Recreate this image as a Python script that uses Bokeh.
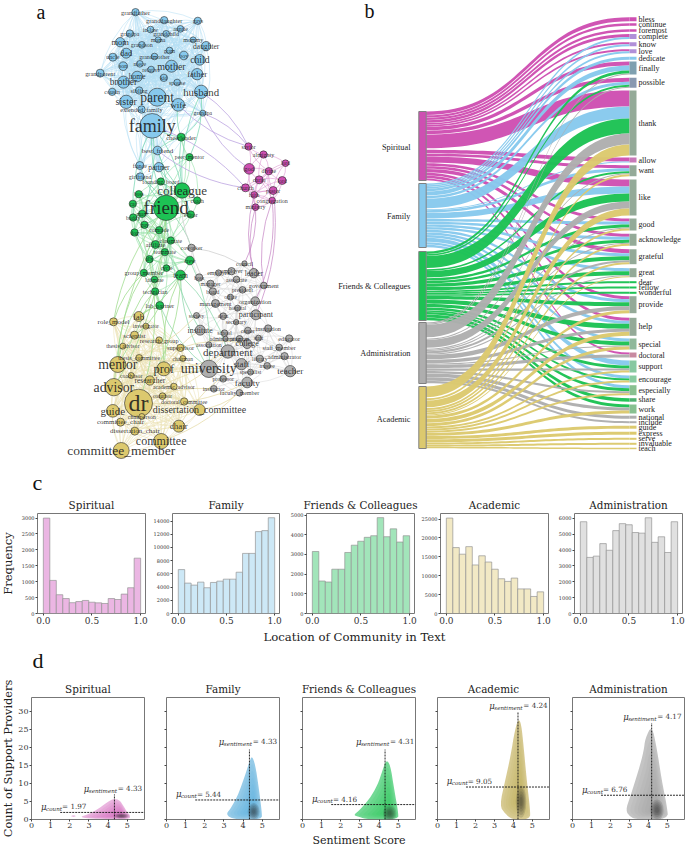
import numpy as np
from bokeh.plotting import figure
from bokeh.layouts import column, row
from bokeh.models import Range1d, FixedTicker, ColumnDataSource
from bokeh.core.properties import value
from bokeh.embed import file_html
from bokeh.resources import INLINE

COL = {"sp": "#CE4FB2", "fa": "#87C9ED", "fr": "#1DC254", "ad": "#AEAEAE", "ac": "#DCC96E"}
SERIF = "DejaVu Serif"
TIMES = "Liberation Serif"

# ---------- panel a : network (label, x, y, radius, font px) ----------
blue = [("grandfather",405,35,11,6.3),("granddaughter",491,59,11,6.3),("guys",592,61,11,5.5),("grandpa",388,99,11,6),
("in-law",450,87,10,6),("auntie",540,85,10,6),("grandchild",497,100,10,6),("mama",473,118,9,6),("mommy",578,118,9,6),
("daughter",617,137,14,7.5),("mom",359,125,14,8.5),("grandson",424,133,10,6),("dad",377,158,15,8.5),("gram",507,150,10,5.5),
("boy",550,165,13,6),("uncle",337,170,12,6),("grandmother",462,168,10,6),("child",598,178,16,9.7),("son",368,197,13,6),
("niece",418,190,10,6),("relative",452,207,10,6),("mother",513,197,18,10),("father",590,221,17,8.6),("grandparent",299,218,12,6.3),
("home",410,228,16,7.5),("kid",490,232,11,5.5),("spouse",530,246,10,6),("brother",369,245,18,9.5),("husband",602,274,20,10.8),
("cousin",335,274,11,6),("sibling",416,270,11,6.3),("parent",470,290,27,13.6),("wife",533,313,19,9),("sister",377,304,20,10),
("extended_family",423,327,11,6.3),("grandpa_",607,338,9,5.8),("family",455,376,37,18),("best_friend",471,450,13,7),
("partner",475,500,14,7.5),("fiance",418,495,12,5.8),("girlfriend",419,529,12,6)]
green = [("cheerleader",542,410,12,6.5),("peer_mentor",567,470,11,5.8),("founding_board",481,543,11,5.8),("colleague",545,570,23,13),
("friend",497,622,38,19),("boss",415,581,11,5.5),("cat",397,610,11,5.5),("coach",590,600,11,5.8),("editor",571,642,11,5.8),
("mate",425,640,11,5.5),("buddy",398,651,11,5.8),("guy",432,673,11,5.5),("comrade",476,689,11,5.8),("dog",402,696,11,5.5)]
pink = [("savior",744,438,11,5.8),("almighty",789,462,11,6),("lord_",855,488,10,5.5),("god",746,505,16,6.5),("divine",805,512,11,5.8),
("christ",776,538,12,5.8),("lord",845,540,12,5.8),("church",735,562,12,6),("pastor",818,570,12,5.8),("faith",761,583,10,5.8),
("congregation",815,600,10,6),("ministry",765,620,10,6)]
green2 = [("classmate",331,30,11,5.8),("affiliate",285,42,12,6.3),("teammate",313,65,11,5.8),("ally",267,86,11,5.5),("crew",388,90,13,5.8),
("cycle",318,113,10,5.8),("group_member",250,127,11,6.3),("team",360,134,15,7.5),("labmate",282,147,10,5.8),("technician",284,183,11,6),
("lab_partner",298,225,12,6.3)]
grey = [("coworker",393,52,11,5.8),("council",552,99,8,5.8),("employer",513,122,11,5.8),("leader",580,128,14,7.5),("employee",474,127,9,5.8),
("boss_",416,141,11,5.5),("manager",450,160,11,5.8),("associate",528,147,10,5.8),("government",610,165,10,6.3),("board",457,183,11,5.8),
("president",546,178,10,5.8),("office",510,200,9,5.5),("organization",584,212,13,6.5),("management",465,219,12,6.3),("hospital",531,233,9,5.5),
("participant",586,253,15,8),("society",408,255,9,5.5),("dean",488,257,10,5.5),("secretary",527,275,8,5.8),("institute",419,299,15,7.8),
("center",562,300,10,5.8),("institution",623,294,11,6.3),("school",492,308,10,5.5),("educator",686,324,11,6.3),("administration",495,325,8,5.5),
("staff_",594,323,9,5.5),("college",560,340,14,8),("association",445,343,9,5.8),("program",537,325,10,5.8),("staff_member",656,351,10,6),
("department",502,363,20,11),("administrator",672,377,11,6.3),("library",598,385,11,5.8),("staff",543,401,17,9),("university",445,415,26,14),
("trustee",620,406,10,5.8),("teacher",689,422,17,9),("specialist",570,425,9,5.8),("professor",488,445,10,5.8),("faculty",560,456,16,9),
("instructor",460,475,10,5.8),("faculty_member",537,487,10,6)]
yellow = [("lab",235,258,15,9),("role_model",159,274,12,7),("investigator",256,287,9,5.5),("scientist",222,314,12,6.8),("research_group",296,329,10,6.3),
("thesis_advisor",187,347,9,5.8),("supervisor",360,352,11,6.5),("thesis_committee",236,382,10,6),("chairman",367,384,9,5.5),("mentor",172,402,24,13.8),
("prof",310,415,21,12.4),("coadvisor",212,435,9,5.8),("researcher",268,450,14,7.5),("academic_advisor",340,468,10,5.8),("advisor",160,470,26,13.8),
("coauthor",306,497,10,5.5),("doctoral_committee",371,513,11,5.8),("dr",234,518,42,24),("dissertation_committee",417,538,17,10),("guide",157,541,19,11),
("committee_chair",180,575,12,7),("chairperson",244,558,9,6),("chair",355,587,18,9),("dissertation_chair",223,602,12,7),("committee",302,632,23,12),
("committee_member",182,660,24,13.5)]

cross_edges = [
("family","friend","#7AD8B4"),("family","colleague","#7AD8B4"),("family","cheerleader","#7AD8B4"),("partner","friend","#7AD8B4"),
("partner","colleague","#7AD8B4"),("best_friend","friend","#7AD8B4"),("best_friend","colleague","#7AD8B4"),("best_friend","cheerleader","#7AD8B4"),
("wife","cheerleader","#7AD8B4"),("grandpa_","cheerleader","#7AD8B4"),("husband","colleague","#7AD8B4"),("husband","peer_mentor","#7AD8B4"),
("fiance","friend","#7AD8B4"),("girlfriend","friend","#7AD8B4"),("family","buddy","#7AD8B4"),("family","mate","#7AD8B4"),("cheerleader","editor","#7AD8B4"),
("wife","savior","#B9A0E0"),("husband","savior","#B9A0E0"),("grandpa_","god","#B9A0E0"),("grandpa_","savior","#B9A0E0"),("best_friend","church","#B9A0E0"),("family","church","#B9A0E0"),
("ministry","leader","#C98CC8"),("ministry","council","#C98CC8"),("congregation","government","#C98CC8"),("congregation","organization","#C98CC8"),("faith","leader","#C98CC8"),("pastor","participant","#C98CC8"),
("lab_partner","lab","#9EDB8C"),("team","lab","#9EDB8C"),("technician","lab","#9EDB8C"),("friend","mentor","#9EDB8C"),("group_member","role_model","#9EDB8C"),
("friend","advisor","#9EDB8C"),("colleague","advisor","#9EDB8C"),("lab_partner","scientist","#9EDB8C"),("team","prof","#9EDB8C"),("team","researcher","#9EDB8C"),
("labmate","mentor","#9EDB8C"),("technician","prof","#9EDB8C"),("group_member","mentor","#9EDB8C"),("ally","dr","#9EDB8C"),("friend","role_model","#9EDB8C"),
("team","university","#8ED8AC"),("crew","university","#8ED8AC"),("lab_partner","university","#8ED8AC"),("team","department","#8ED8AC"),("friend","institute","#8ED8AC"),
("colleague","coworker","#CFCFCF"),("friend","coworker","#8ED8AC"),("coworker","leader","#CFCFCF"),("coworker","board","#CFCFCF"),
("university","dr","#E6DCA8"),("university","prof","#E6DCA8"),("university","mentor","#E6DCA8"),("department","dr","#E6DCA8"),("staff","chair","#E6DCA8"),
("faculty","committee","#E6DCA8"),("university","advisor","#E6DCA8"),("faculty","dr","#E6DCA8"),("institute","prof","#E6DCA8"),("department","prof","#E6DCA8"),
("college","supervisor","#E6DCA8"),("faculty_member","dissertation_committee","#E6DCA8"),("instructor","dr","#E6DCA8"),("society","mentor","#E6DCA8"),
]

# ---------- panel b : alluvial ----------
words = ["bless","continue","foremost","complete","know","love","dedicate","finally","possible","thank","allow","want","like","good",
"acknowledge","grateful","great","dear","fellow","wonderful","provide","help","special","doctoral","support","encourage","especially",
"share","work","national","include","guide","express","serve","invaluable","teach"]
word_tops = [16.7,22.8,28.8,33.5,41.7,48.7,56.2,61,77.3,90,157,164.7,179,218,233.3,248.7,267.7,280.7,286,291.3,295.7,317.3,338,352,360,375,384.7,397.7,404,415.2,420.7,425.2,431.2,437.3,442.3,447.2]
spiritual_v = [4,2.5,2.5,3,2,2,0,4,4,16,4,3,7,3,3,4,0,0,0,0,3,3,0,2,0,0,0,0,0,0,0,0,0,0,0,0]
family_v    = [0,0,0,2,2,2,3,5,3,12,1,3,7,3,3,3,3,0,0,0,3,3,3,0,5,3,3,0,0,0,0,0,0,0,0,0]
friends_v   = [0,0,0,0,0,0,0,3,2,15,0,2,8,3,3,4,4,2,2,2,4,5,4,0,3,2,3,3.5,3,0,0,0,0,0,0,0]
admin_v     = [0,0,0,0,0,0,0,1,1,11,0,1,7,1,1,2,1,0,0,0,4,3,1,3,2,0,2,0,3,3,2,0,0,0,0,0]
academic_v  = [0,0,0,0,0,0,0,0,0,11,0,2,7,2,2,2,1,0,0,0,3,4,3,0,2,2,2,0,3,0,0,3,3,2,2,1.5]
word_colors = ["#CE4FB2","#CE4FB2","#CE4FB2","#B08FD8","#B08FD8","#B08FD8","#87C9ED","#7FA0B0","#8898B0","#94AA98","#C878B8","#94AA98","#94AA98","#94AA98",
"#94AA98","#94AA98","#94AA98","#1DC254","#1DC254","#1DC254","#94AA98","#94AA98","#8FB89A","#C88AA0","#88C8A0","#88CCA0","#88C090","#50B070","#88C090",
"#AEAEAE","#AEAEAE","#DCC96E","#DCC96E","#DCC96E","#DCC96E","#DCC96E"]
comm_names = ["Spiritual","Family","Friends & Colleagues","Administration","Academic"]
comm_keys = ["sp","fa","fr","ad","ac"]
comm_values = [spiritual_v,family_v,friends_v,admin_v,academic_v]
comm_tops = [111,183,251,322,386]
comm_bottoms = [180,247,320,383,448]
comm_label_y = [147,216,285.7,352.7,418.7]

# ---------- panel c : histograms ----------
hist_titles = ["Spiritual","Family","Friends & Colleagues","Academic","Administration"]
hist_spiritual = [3000,1040,590,470,340,375,410,355,335,315,470,440,610,810,1740]
hist_family = [6650,4600,4300,4750,3900,4700,4900,5200,5200,6250,9100,9100,12400,12550,14500]
hist_friends = [3150,1650,1600,2250,2250,3100,3470,3670,3870,3950,4870,3900,4300,3630,3950]
hist_academic = [25260,17450,15700,17700,12850,15280,13630,11720,9200,8500,9375,6510,6510,4510,5730]
hist_admin = [5790,3540,3620,4410,3990,5230,5670,5600,5110,5070,6040,4490,4840,3850,5790]
hist_colors = ["#EBB6E3","#CDE8F6","#A2E5BA","#F2E9C5","#E0E0E0"]
hist_tops = [3144,15143,5080,26476,6310]
hist_ticks = [[0,500,1000,1500,2000,2500,3000],[0,2000,4000,6000,8000,10000,12000,14000],[0,1000,2000,3000,4000,5000],
              [0,5000,10000,15000,20000,25000],[0,1000,2000,3000,4000,5000,6000]]

# ---------- panel d : density outlines (sentiment, count) ----------
kde_spiritual = [(2.5,.7),(3.0,1.5),(3.5,3.0),(4.0,5.0),(4.3,5.8),(4.6,5.4),(4.8,3.8),(5.0,2.0),(5.17,1.0),(5.1,.1),(4.0,.1),(3.0,.3)]
kde_family = [(4.46,17.7),(4.63,15.4),(4.81,9.2),(4.98,2),(4.98,0),(3.85,0),(3.33,.4),(3.12,1.6),(3.33,2.9),(3.71,6.5),(4.02,11),(4.34,16.3)]
kde_friends = [(4.36,16.6),(4.58,15.4),(4.79,8.3),(5,2),(5,0),(3.4,0),(2.96,.7),(2.65,1.2),(2.96,2.5),(3.48,5.6),(3.92,9.6),(4.18,13.7)]
kde_academic = [(4.27,28.1),(4.41,26.6),(4.53,20.8),(4.7,11),(4.88,2.9),(4.88,0),(3.92,0),(3.57,1.6),(3.27,3.8),(3.57,11),(3.83,17.2),(4.09,25.3)]
kde_admin = [(4.18,26.3),(4.44,19.9),(4.7,11),(4.97,3.8),(5.05,0),(3.4,0),(3.05,.7),(2.79,2.5),(3.05,6.5),(3.48,13.7),(3.75,19),(3.83,22.6)]
kde_centers = [(4.7,1.0),(4.55,2.2),(4.55,1.7),(4.4,5.0),(4.45,2.6)]
core_sizes = [(0.75,1.5),(0.62,4.8),(0.7,4.6),(0.55,9.0),(0.7,6.0)]
mean_sentiment = [4.33,4.33,4.31,4.24,4.17]
mean_count = [1.97,5.44,4.16,9.05,6.76]
vline_top = [7,19.5,19.5,30,26.9]
sent_label_pos = [(2.73,8.6),(2.73,21.6),(2.79,21.6),(2.73,31.7),(2.67,28.7)]
count_label_pos = [(.5,3.5),(.49,7.0),(.49,5.6),(.49,10.7),(.5,8.3)]
kde_colors = ["#CE4FB2","#55ABDA","#1DC254","#BFA94F","#A0A0A0"]
kde_base_alpha = [0.42,0.62,0.62,0.62,0.62]
kde_tail = [(2.05,.9),(2.2,1.2),(2.33,.9),(2.2,.75)]


def bare(w, h, xr, yr):
    p = figure(width=w, height=h, x_range=Range1d(*xr), y_range=Range1d(*yr), output_backend="svg",
               toolbar_location=None, min_border=0)
    p.axis.visible = False
    p.grid.visible = False
    p.outline_line_color = None
    return p


# ---- top figure : network + alluvial ----
top = bare(685, 494, (0, 685), (494, 0))

def z1(n): return (n[0], n[1]/3, n[2]/3, n[3]/3, n[4])
def z2(n): return (n[0], 60+n[1]/3, 230+n[2]/3, n[3]/3, n[4])
groups = [("fa",[z1(n) for n in blue],72,"#B5DEF3"),("fr",[z1(n) for n in green]+[z2(n) for n in green2],46,"#86DD9C"),
          ("sp",[z1(n) for n in pink],32,"#D98BCB"),("ad",[z2(n) for n in grey],36,"#D8D8D8"),("ac",[z2(n) for n in yellow],70,"#E9E0B0")]
pos = {}
for k, nodes, th, c in groups:
    for n in nodes:
        pos[n[0]] = (n[1], n[2], n[3])

def add_curves(pairs, color, width, alpha, bend):
    x0, y0, x1, y1, cx, cy = [], [], [], [], [], []
    for idx, (a, b) in enumerate(pairs):
        dx, dy = b[0]-a[0], b[1]-a[1]
        s = bend if idx % 2 == 0 else -bend
        x0.append(a[0]); y0.append(a[1]); x1.append(b[0]); y1.append(b[1])
        cx.append((a[0]+b[0])/2 - dy*s); cy.append((a[1]+b[1])/2 + dx*s)
    top.quadratic(x0=x0, y0=y0, x1=x1, y1=y1, cx=cx, cy=cy, line_color=color, line_width=width, line_alpha=alpha)

for k, nodes, th, c in groups:
    pairs = []
    for i in range(len(nodes)):
        for j in range(i+1, len(nodes)):
            a, b = nodes[i], nodes[j]
            d = np.hypot(a[1]-b[1], a[2]-b[2])
            big = a[3] > 5.5 or b[3] > 5.5
            if d < th or (big and d < th*1.35):
                pairs.append(((a[1], a[2]), (b[1], b[2])))
    add_curves(pairs, c, 0.7, 0.75, 0.16)

for color in sorted({e[2] for e in cross_edges}):
    pairs = [(pos[a][:2], pos[b][:2]) for a, b, c in cross_edges if c == color]
    add_curves(pairs, color, 0.9, 0.85, 0.14)

for k, nodes, th, c in groups:
    src = ColumnDataSource(dict(x=[n[1] for n in nodes], y=[n[2] for n in nodes], s=[2*n[3] for n in nodes]))
    top.scatter("x", "y", size="s", source=src, marker="circle", fill_color=COL[k], line_color="#2a2a2a", line_width=0.6)
for k, nodes, th, c in groups:
    src = ColumnDataSource(dict(x=[n[1] for n in nodes], y=[n[2] for n in nodes],
                                t=[n[0].rstrip("_") for n in nodes], f=["%.1fpx" % n[4] for n in nodes]))
    top.text("x", "y", text="t", source=src, text_font=value(TIMES), text_font_size="f", text_align="center",
             text_baseline="middle", text_color="#1c1c1c", text_alpha=0.9)

# alluvial bands
XL0, XL1, XR0, XR1 = 418.3, 425.7, 629.0, 636.0
word_cursor = list(word_tops)
t = np.linspace(0, 1, 40)
for ci, key in enumerate(comm_keys):
    vals = comm_values[ci]
    scale = (comm_bottoms[ci]-comm_tops[ci]) / sum(vals)
    yl = comm_tops[ci]
    xs, ys = [], []
    for wi, v in enumerate(vals):
        if v <= 0:
            continue
        y0, y1 = yl, word_cursor[wi]
        h_l = v*scale*0.9
        xc0, xc1 = XL1+(XR0-XL1)*0.5, XR0-(XR0-XL1)*0.5
        bx = (1-t)**3*XL1 + 3*(1-t)**2*t*xc0 + 3*(1-t)*t**2*xc1 + t**3*XR0
        mix = 3*t**2 - 2*t**3
        top_e = (1-mix)*y0 + mix*y1
        bot_e = (1-mix)*(y0+h_l) + mix*(y1+v)
        xs.append(np.concatenate([bx, bx[::-1]]).tolist())
        ys.append(np.concatenate([top_e, bot_e[::-1]]).tolist())
        yl += v*scale
        word_cursor[wi] += v
    top.patches(xs, ys, fill_color=COL[key], line_color=None, fill_alpha=0.97)
    top.quad(left=XL0, right=XL1, top=comm_tops[ci], bottom=comm_bottoms[ci], fill_color=COL[key], line_color="#808080", line_width=1)
    top.text([410], [comm_label_y[ci]], text=[comm_names[ci]], text_font=value(TIMES), text_font_size="8.3px",
             text_align="right", text_baseline="middle", text_color="#222222")

word_h = [a+b+c+d+e for a, b, c, d, e in zip(*comm_values)]
top.quad(left=XR0, right=XR1, top=word_tops, bottom=[a+b for a, b in zip(word_tops, word_h)], fill_color=word_colors, line_color=None)
top.text([638]*len(words), [a+b/2 for a, b in zip(word_tops, word_h)], text=words, text_font=value(TIMES), text_font_size="8px",
         text_baseline="middle", text_color="#222222")
top.text([36, 364], [11, 10.5], text=["a", "b"], text_font=value(TIMES), text_font_size="20px",
         text_baseline="middle", text_color="#111111")
top.text([32], [482], text=["c"], text_font=value(TIMES), text_font_size="22px",
         text_baseline="middle", text_color="#111111")


def style_axes(p, tick_px):
    p.grid.visible = False
    p.outline_line_color = "#777777"
    p.outline_line_width = 1
    for ax in (p.xaxis[0], p.yaxis[0]):
        ax.axis_line_color = None
        ax.minor_tick_line_color = None
        ax.major_tick_in = 0
        ax.major_tick_out = 2
        ax.major_tick_line_color = "#444444"
        ax.major_label_text_font = SERIF
        ax.major_label_text_color = "#333333"
        ax.major_label_text_font_size = tick_px
    p.title.text_font = SERIF
    p.title.text_font_style = "normal"
    p.title.text_font_size = "10.4px"
    p.title.text_color = "#222222"
    p.title.align = "center"
    p.title.standoff = 5

def side_strip(h, text, top_b, bot_b, size):
    s = figure(width=14, height=h, x_range=Range1d(0, 1), y_range=Range1d(0, 1), output_backend="svg", toolbar_location=None,
               min_border_left=0, min_border_right=0, min_border_top=top_b, min_border_bottom=bot_b)
    s.xaxis.visible = False
    s.grid.visible = False
    s.outline_line_color = None
    ax = s.yaxis[0]
    ax.ticker = FixedTicker(ticks=[])
    ax.axis_line_color = None
    ax.major_tick_line_color = None
    ax.minor_tick_line_color = None
    ax.axis_label = text
    ax.axis_label_text_font = SERIF
    ax.axis_label_text_font_style = "normal"
    ax.axis_label_text_font_size = size
    ax.axis_label_text_color = "#222222"
    ax.axis_label_standoff = 0
    return s


# ---- histograms row ----
hist_data = [hist_spiritual, hist_family, hist_friends, hist_academic, hist_admin]
hist_w = [136, 135, 133, 134, 133]
hist_l = [23, 21, 21, 22, 22]
edges = np.linspace(0, 1, 16)
hist_figs = []
for i in range(5):
    p = figure(width=hist_w[i], height=134, x_range=Range1d(-0.06, 1.05), y_range=Range1d(0, hist_tops[i]), title=hist_titles[i],
               output_backend="svg", toolbar_location=None, min_border_left=hist_l[i], min_border_right=hist_w[i]-hist_l[i]-108,
               min_border_top=18, min_border_bottom=15)
    p.quad(left=edges[:-1], right=edges[1:], bottom=0, top=hist_data[i], fill_color=hist_colors[i],
           line_color="#909090", line_alpha=0.75, line_width=0.9)
    style_axes(p, "9px")
    p.yaxis[0].major_label_text_font_size = "5px"
    p.xaxis[0].ticker = FixedTicker(ticks=[0, 0.5, 1.0])
    p.xaxis[0].major_label_overrides = {0: "0.0", 0.5: "0.5", 1: "1.0"}
    p.xaxis[0].major_label_standoff = 1
    p.yaxis[0].ticker = FixedTicker(ticks=hist_ticks[i])
    p.yaxis[0].major_label_standoff = 1
    hist_figs.append(p)
hist_row = row(side_strip(134, "Frequency", 10, 6, "11.6px"), *hist_figs, spacing=0)

# ---- strip ----
strip = bare(685, 44, (0, 685), (44, 0))
strip.text([354], [8], text=["Location of Community in Text"], text_font=value(SERIF), text_font_size="11.7px", text_align="center",
           text_baseline="middle", text_color="#222222")
strip.text([32], [31.5], text=["d"], text_font=value(TIMES), text_font_size="22px", text_baseline="middle", text_color="#111111")

def smooth(poly, rounds=2):
    q = np.array(poly, dtype=float)
    for _ in range(rounds):
        nxt = np.roll(q, -1, axis=0)
        q = np.column_stack([0.75*q+0.25*nxt, 0.25*q+0.75*nxt]).reshape(-1, 2)
    return q

# ---- violins row ----
kde_data = [kde_spiritual, kde_family, kde_friends, kde_academic, kde_admin]
vi_w = [136, 135, 140, 135, 125]
vi_l = [17, 16, 17, 12, 12]
vi_fw = [113, 113, 113, 112, 112]
vi_figs = []
for i in range(5):
    p = figure(width=vi_w[i], height=177, x_range=Range1d(0, 5.9), y_range=Range1d(0, 34), title=hist_titles[i],
               output_backend="svg", toolbar_location=None, min_border_left=vi_l[i], min_border_right=vi_w[i]-vi_l[i]-vi_fw[i],
               min_border_top=25, min_border_bottom=25)
    poly = smooth(kde_data[i])
    c = np.array(kde_centers[i])
    n_lv = 9
    for k in range(n_lv):
        f = (1 - k/n_lv)**1.15
        q = c + (poly-c)*f
        q[:, 1] = np.maximum(q[:, 1], 0)
        p.patch(q[:, 0], q[:, 1], fill_color=kde_colors[i], fill_alpha=kde_base_alpha[i] if k == 0 else 0.12, line_color=None)
    if i == 0:
        tail = smooth(kde_tail)
        p.patch(tail[:, 0], tail[:, 1], fill_color=kde_colors[i], fill_alpha=0.5, line_color=None)
    for k in range(5):
        f = 1 - k*0.18
        p.ellipse([c[0]], [c[1]], width=core_sizes[i][0]*f, height=core_sizes[i][1]*f, fill_color="#333333", fill_alpha=0.16, line_color=None)
    p.line([mean_sentiment[i]]*2, [0, vline_top[i]], line_color="#111111", line_dash="2 1", line_width=0.9)
    p.line([1.5, 5.9], [mean_count[i]]*2, line_color="#111111", line_dash="2 1", line_width=0.9)
    for (lx, ly), sub, off, txt in ((sent_label_pos[i], "sentiment", 34, "= %.2f" % mean_sentiment[i]),
                                    (count_label_pos[i], "count", 21, "= %.2f" % mean_count[i])):
        p.text([lx], [ly], text=["\u03bc"], text_font=value(SERIF), text_font_style="italic", text_font_size="8.5px",
               text_baseline="middle", text_color="#333333")
        p.text([lx], [ly], text=[sub], x_offset=5, y_offset=2, text_font=value(SERIF), text_font_style="italic", text_font_size="5.6px",
               text_baseline="middle", text_color="#333333")
        p.text([lx], [ly], text=[txt], x_offset=off, text_font=value(SERIF), text_font_size="7.2px",
               text_baseline="middle", text_color="#333333")
    style_axes(p, "8px")
    p.xaxis[0].ticker = FixedTicker(ticks=[0, 1, 2, 3, 4, 5])
    p.xaxis[0].major_label_standoff = 1
    yt = [0, 5, 10, 15, 20, 25, 30]
    p.yaxis[0].ticker = FixedTicker(ticks=yt)
    p.yaxis[0].major_label_standoff = 1
    if i > 0:
        p.yaxis[0].major_label_overrides = {v: "" for v in yt}
    if i == 2:
        p.xaxis[0].axis_label = "Sentiment Score"
        p.xaxis[0].axis_label_text_font = SERIF
        p.xaxis[0].axis_label_text_font_style = "normal"
        p.xaxis[0].axis_label_text_color = "#222222"
        p.xaxis[0].axis_label_text_font_size = "11px"
        p.xaxis[0].axis_label_standoff = 3
    vi_figs.append(p)
vi_row = row(side_strip(177, "Count of Support Providers", 10, 5, "11.3px"), *vi_figs, spacing=0)

root = column(top, hist_row, strip, vi_row, spacing=0, margin=0)
open("out.html", "w").write(file_html(root, INLINE))
